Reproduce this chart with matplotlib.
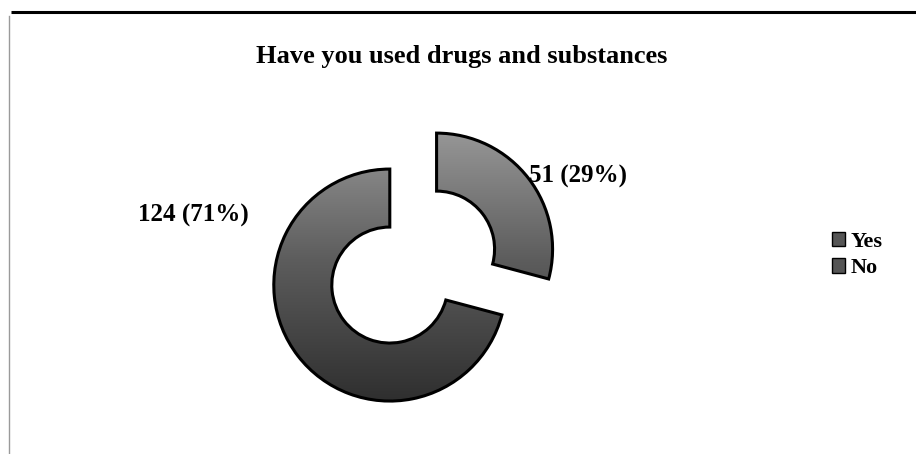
import numpy as np
import matplotlib.pyplot as plt
from matplotlib.patches import Patch
from matplotlib.colors import LinearSegmentedColormap

labels = ["Yes", "No"]
counts = [51, 124]
pcts = [29, 71]

plt.rcParams['font.family'] = ['Liberation Serif', 'DejaVu Serif']

fig = plt.figure(figsize=(9.16, 4.54), dpi=100)
ax = fig.add_axes([0, 0, 1, 1])

# frame lines from the scanned page
ax.plot([11, 916], [442, 442], color='black', lw=2.2, solid_capstyle='butt')
ax.plot([9, 9], [0, 438], color='#9a9a9a', lw=1.0)

# explode is in data units here (radius = 116)
wedges, _ = ax.pie(counts, startangle=90, counterclock=False, explode=[31, 28],
                   center=(412, 186), radius=116, frame=True,
                   wedgeprops=dict(width=58, edgecolor='black', linewidth=2.2))
ax.set_xlim(0, 916)
ax.set_ylim(0, 454)
ax.set_aspect('equal')
ax.axis('off')

cmap = LinearSegmentedColormap.from_list('g', ['#2e2e2e', '#5c5c5c', '#9c9c9c'])
grad = np.linspace(0, 1, 256).reshape(-1, 1)
for w in wedges:
    w.set_facecolor('none')
    im = ax.imshow(grad, cmap=cmap, origin='lower', aspect='auto',
                   extent=(260, 570, 50, 335), zorder=0)
    im.set_clip_path(w)

ax.text(193, 454 - 215, f"{counts[1]} ({pcts[1]}%)", fontsize=18,
        fontweight='bold', ha='center', va='center')
ax.text(578, 454 - 176, f"{counts[0]} ({pcts[0]}%)", fontsize=18,
        fontweight='bold', ha='center', va='center')

ax.text(462, 454 - 56, "Have you used drugs and substances", fontsize=19,
        fontweight='bold', ha='center', va='center')

handles = [Patch(facecolor='#555555', edgecolor='black', label=l) for l in labels]
leg = fig.legend(handles=handles, loc='center left',
                 bbox_to_anchor=(812 / 916, 1 - 255 / 454), frameon=False,
                 prop=dict(size=16, weight='bold'), handlelength=0.6,
                 handleheight=0.6, handletextpad=0.25, labelspacing=0.3)

fig.savefig('out.png', dpi=100)
